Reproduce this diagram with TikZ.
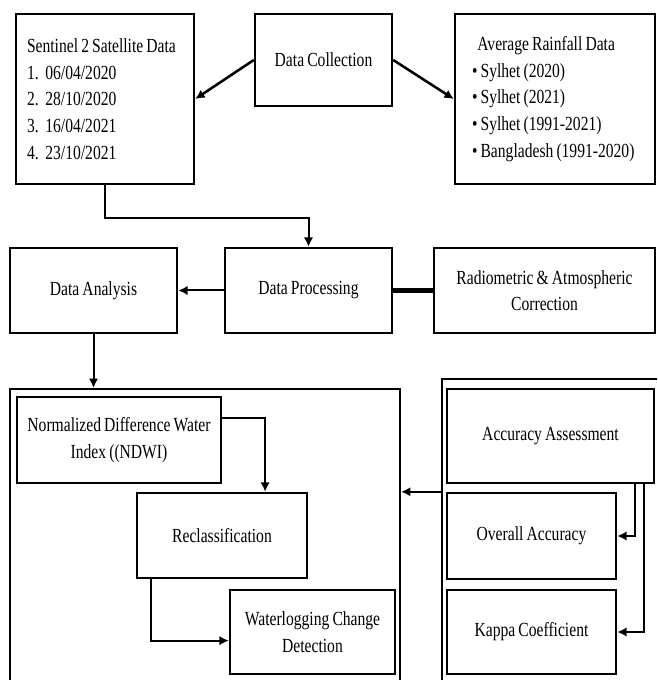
\documentclass[tikz,border=0pt]{standalone}
\usepackage{fontspec}
\setmainfont{Liberation Serif}[FakeStretch=0.78,WordSpace=0.8]
\usetikzlibrary{arrows.meta,calc}

\begin{document}
\begin{tikzpicture}[x=0.75pt,y=-0.75pt,
  box/.style={draw,line width=1.8pt,align=center,inner sep=3pt,
    font=\fontsize{15}{20}\selectfont},
  frame/.style={draw,line width=1.6pt,inner sep=0pt},
  arr/.style={-{Latex[length=7pt,width=7pt]},line width=1.5pt},
  ]
  \useasboundingbox[fill=white] (0,0) rectangle (657,680);
  \clip (0,0) rectangle (657,680);
  % top row
  \node[box,text width=117pt,inner xsep=8.25pt,align=flush left,minimum height=127.5pt] (sent) at (105,99)
    {Sentinel 2 Satellite Data\\1.\hspace{5pt}06/04/2020\\2.\hspace{5pt}28/10/2020\\
     3.\hspace{5pt}16/04/2021\\4.\hspace{5pt}23/10/2021};
  \node[box,minimum width=102.75pt,minimum height=69pt] (coll) at (323.5,60) {Data Collection};
  \node[box,text width=124.5pt,inner xsep=12.75pt,align=flush left,minimum height=127.5pt] (rain) at (555,99)
    {\hspace*{4pt}Average Rainfall Data\\\textbullet\ Sylhet (2020)\\\textbullet\ Sylhet (2021)\\
     \textbullet\ Sylhet (1991-2021)\\\textbullet\ Bangladesh (1991-2020)};
  % middle row
  \node[box,minimum width=125.25pt,minimum height=63.75pt] (anal) at (93.5,290.5) {Data Analysis};
  \node[box,minimum width=125.25pt,minimum height=63.75pt] (proc) at (308.5,290.5) {Data Processing};
  \node[box,minimum width=165.75pt,minimum height=63.75pt] (corr) at (544.5,290.5)
    {Radiometric \& Atmospheric\\Correction};
  % bottom groups
  \node[frame,minimum width=292.5pt,minimum height=226.5pt] (grpL) at (205,540) {};
  \node[frame,line width=1.9pt,minimum width=167.25pt,minimum height=234pt] (grpR) at (553.5,535) {};
  \node[box,minimum width=153pt,minimum height=64.5pt] (ndwi) at (119,440)
    {Normalized Difference Water\\Index ((NDWI)};
  \node[box,minimum width=127.5pt,minimum height=63.75pt] (recl) at (222,535.5) {Reclassification};
  \node[box,minimum width=123.75pt,minimum height=63pt] (wlog) at (312.5,632)
    {Waterlogging Change\\Detection};
  \node[box,minimum width=155.25pt,minimum height=70.5pt] (acc) at (550.5,436) {Accuracy Assessment};
  \node[box,minimum width=126.75pt,minimum height=64.5pt] (oa) at (531.5,536) {Overall Accuracy};
  \node[box,minimum width=126.75pt,minimum height=63pt] (kap) at (531.5,632) {Kappa Coefficient};
  % connectors
  \draw[arr,line width=1.9pt] (coll.west) -- (sent.east);
  \draw[arr,line width=1.9pt] (coll.east) -- (rain.west);
  \draw[arr] (sent.south) -- ++(0,33) -| (proc.north);
  \draw[arr] (proc.west) -- (anal.east);
  \draw[line width=3.2pt] (proc.east) -- (corr.west);
  \draw[arr] (anal.south) -- (anal.south |- grpL.north);
  \draw[arr] ($(ndwi.north east)!0.25!(ndwi.south east)$) -| ($(recl.north west)!0.75!(recl.north east)$);
  \draw[arr] ($(recl.south west)!0.09!(recl.south east)$) |- ($(wlog.north west)!0.6!(wlog.south west)$);
  \draw[arr] (grpR.west |- oa.north) -- (grpL.east |- oa.north);
  \draw[arr] ($(acc.south west)!0.905!(acc.south east)$) |- (oa.east);
  \draw[arr] ($(acc.south west)!0.947!(acc.south east)$) |- (kap.east);
\end{tikzpicture}
\end{document}
